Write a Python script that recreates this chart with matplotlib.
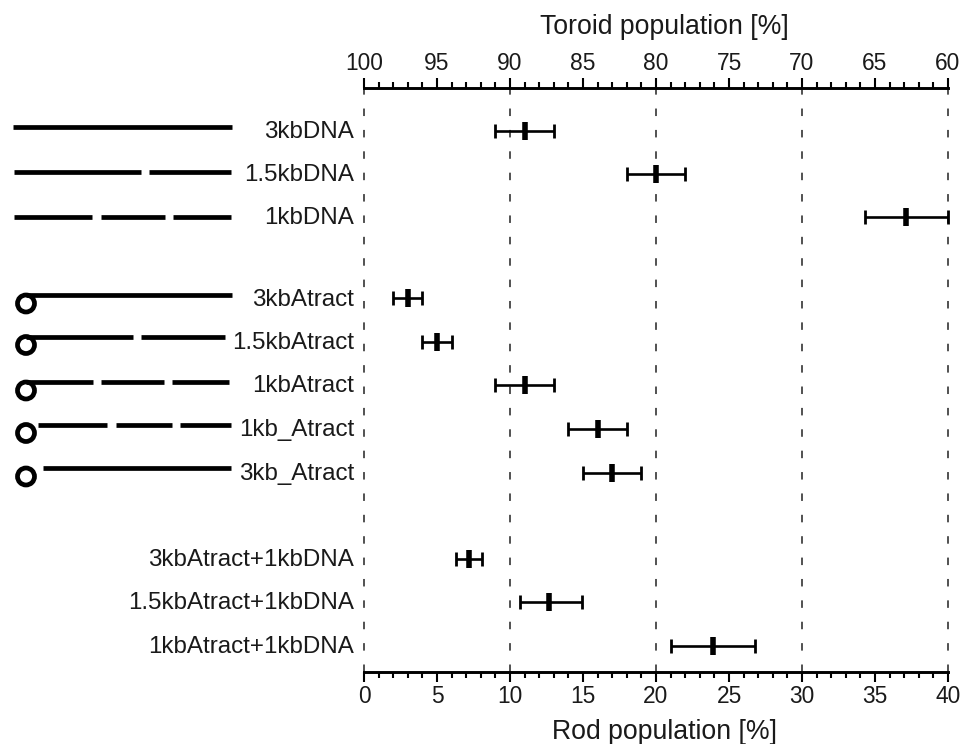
import matplotlib
matplotlib.use("Agg")
import matplotlib.pyplot as plt
from matplotlib.patches import Circle
from matplotlib.ticker import MultipleLocator
from matplotlib.transforms import ScaledTranslation

plt.rcParams['font.family'] = ['Liberation Sans', 'DejaVu Sans']

W, H = 961, 744

# %% data
labels = ["3kbDNA", "1.5kbDNA", "1kbDNA",
          "3kbAtract", "1.5kbAtract", "1kbAtract", "1kb_Atract", "3kb_Atract",
          "3kbAtract+1kbDNA", "1.5kbAtract+1kbDNA", "1kbAtract+1kbDNA"]
rows = [0, 0.99, 1.98, 3.85, 4.86, 5.85, 6.86, 7.87, 9.85, 10.84, 11.86]
rod = [11, 20, 37.1, 3, 5, 11, 16, 17, 7.2, 12.7, 23.9]
err_low = [2, 2, 2.8, 1, 1, 2, 2, 2, 0.9, 2.0, 2.9]
err_high = [2, 2, 2.9, 1, 1, 2, 2, 2, 0.9, 2.2, 2.9]
major_x = [0, 10, 20, 30, 40]

# schematic strands, in pixels of the picture: (y, [(x0, x1), ...])
strands = [
    (127, [(13, 232)]),
    (172, [(14, 141), (149, 231)]),
    (217, [(14, 92), (101, 165), (173, 231)]),
    (294.5, [(26, 232)]),
    (336.5, [(26, 133), (141, 225)]),
    (381.5, [(26, 93), (101, 164), (172, 229)]),
    (424.5, [(38, 107), (116, 172), (180, 231)]),
    (467.5, [(43, 231)]),
]
# ring at the end of the Atract strands
rings_y = [303.5, 345, 390.5, 433, 476.5]
rings_x = 26

# %% plot
fig = plt.figure(figsize=(W / 100, H / 100), dpi=100)
ax = fig.add_axes([364 / W, 1 - 671.5 / H, 584 / W, 584 / H])
ax.set_xlim(0, 40)
ax.set_ylim(12.45, -1.0)

for x in major_x:
    ax.axvline(x, color="#333333", lw=1.2, ls=(0, (4.5, 8.33)), zorder=1, clip_on=False)

ax.errorbar(rod, rows, xerr=[err_low, err_high], fmt="none", ecolor="black",
            elinewidth=1.9, capsize=5, capthick=2, zorder=3, clip_on=False)
ax.plot(rod, rows, ls="none", marker="|", ms=13, mew=4, color="black", zorder=4)

for s in ["left", "right", "top"]:
    ax.spines[s].set_visible(False)
ax.spines["bottom"].set_linewidth(2.1)
ax.set_yticks(rows)
ax.set_yticklabels(labels, fontsize=17.4, color="#1a1a1a", va="center")
ax.tick_params(axis="y", length=0, pad=7)
shift = ScaledTranslation(0, -1.5 / 100, fig.dpi_scale_trans)
for lab in ax.get_yticklabels():
    lab.set_transform(lab.get_transform() + shift)
ax.xaxis.set_major_locator(MultipleLocator(5))
ax.xaxis.set_minor_locator(MultipleLocator(1))
ax.tick_params(axis="x", which="major", length=7.5, width=1.5, labelsize=16.4, pad=2, labelcolor="#1a1a1a")
ax.tick_params(axis="x", which="minor", length=4, width=1.5)
ax.set_xlabel("Rod population [%]", fontsize=19.2, labelpad=8, color="#1a1a1a")
ax.xaxis.label.set_x(0.514)

top = ax.twiny()
top.set_xlim(100, 60)
for s in ["left", "right", "bottom"]:
    top.spines[s].set_visible(False)
top.spines["top"].set_linewidth(2.1)
top.xaxis.set_major_locator(MultipleLocator(5))
top.xaxis.set_minor_locator(MultipleLocator(1))
top.tick_params(axis="x", which="major", length=7.5, width=1.5, labelsize=16.4, pad=1.3, labelcolor="#1a1a1a")
top.tick_params(axis="x", which="minor", length=4, width=1.5)
top.set_xlabel("Toroid population [%]", fontsize=19.2, labelpad=13, color="#1a1a1a")
top.xaxis.label.set_x(0.514)

# overlay in picture pixels for the strand drawings
sk = fig.add_axes([0, 0, 1, 1], facecolor="none")
sk.set_xlim(0, W)
sk.set_ylim(H, 0)
sk.axis("off")
for y, segs in strands:
    for x0, x1 in segs:
        sk.plot([x0, x1], [y, y], color="black", lw=3.4, solid_capstyle="butt")
for y in rings_y:
    sk.add_patch(Circle((rings_x, y), 8.5, fc="none", ec="black", lw=3.4))

fig.savefig("out.png", dpi=100)
